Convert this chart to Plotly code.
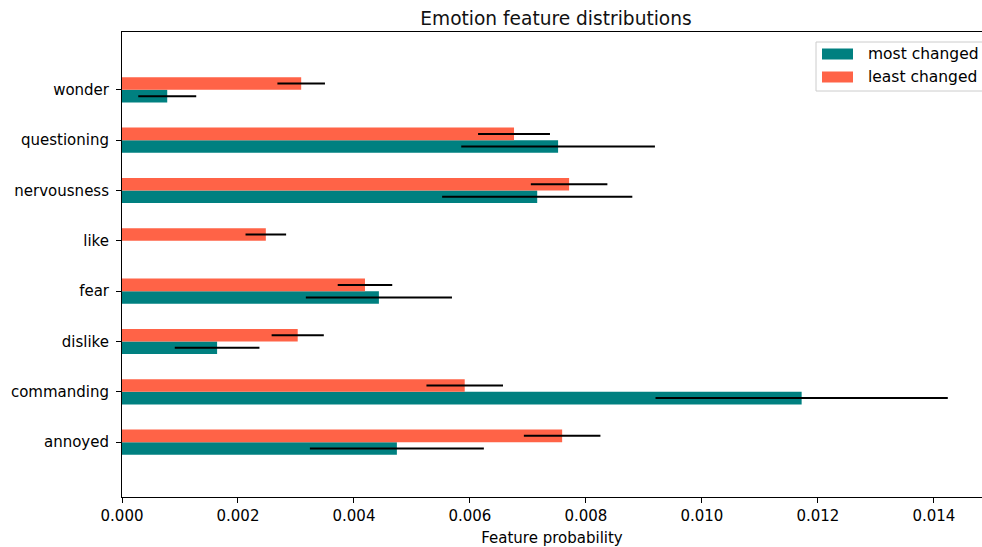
import plotly.graph_objects as go

categories = ["annoyed", "commanding", "dislike", "fear", "like", "nervousness", "questioning", "wonder"]
most_changed = [0.00474, 0.01172, 0.00164, 0.00443, 0.0, 0.00716, 0.00752, 0.00078]
most_err = [0.00150, 0.00252, 0.00073, 0.00126, 0.0, 0.00164, 0.00167, 0.00050]
least_changed = [0.00759, 0.00591, 0.00303, 0.00419, 0.00248, 0.00771, 0.00676, 0.00309]
least_err = [0.00066, 0.00066, 0.00045, 0.00047, 0.00035, 0.00066, 0.00062, 0.00041]
series_names = ["most changed", "least changed"]
series_colors = ["#008080", "#FF6347"]

font = "DejaVu Sans"
W, H = 982, 547
L, T, B = 122, 32, 50
PW, PH = W - L, H - T - B


def px_x(px):
    return (px - L) / PW


def px_y(py):
    return 1 - (py - T) / PH


fig = go.Figure()
for name, vals, errs, col in [(series_names[0], most_changed, most_err, series_colors[0]),
                              (series_names[1], least_changed, least_err, series_colors[1])]:
    fig.add_trace(go.Bar(
        y=categories, x=vals, orientation="h", name=name, showlegend=False,
        marker=dict(color=col, line=dict(width=0)),
        error_x=dict(type="data", array=errs, visible=True, color="black", thickness=2, width=0),
    ))

# matplotlib-style legend box
shapes = [dict(type="rect", xref="paper", yref="paper", x0=px_x(816), x1=px_x(1000),
               y0=px_y(91), y1=px_y(42), line=dict(color="#cccccc", width=1), fillcolor="white",
               layer="above")]
annotations = []
for i, (name, col) in enumerate(zip(series_names, series_colors)):
    cy = 54 + 23 * i
    shapes.append(dict(type="rect", xref="paper", yref="paper", x0=px_x(822), x1=px_x(853),
                       y0=px_y(cy + 5.5), y1=px_y(cy - 5.5), line=dict(width=0), fillcolor=col,
                       layer="above"))
    annotations.append(dict(text=name, xref="paper", yref="paper", x=px_x(866), y=px_y(cy),
                            xanchor="left", yanchor="middle", showarrow=False,
                            font=dict(size=15.5, family=font, color="black")))

fig.update_layout(
    width=W, height=H,
    margin=dict(l=L, r=0, t=T, b=B, autoexpand=False),
    barmode="group", bargap=0.5, bargroupgap=0,
    plot_bgcolor="white", paper_bgcolor="white",
    font=dict(family=font, size=15, color="black"),
    title=dict(text="Emotion feature distributions", x=556 / W, xanchor="center",
               y=1 - 18 / H, yanchor="middle", font=dict(size=18.6, family=font, color="#111111")),
    shapes=shapes, annotations=annotations,
    showlegend=False,
)
fig.update_xaxes(
    range=[0, 0.01483], dtick=0.002, tick0=0, tickformat=".3f",
    showgrid=False, zeroline=False, showline=True, linecolor="black", linewidth=1, mirror=True,
    ticks="outside", ticklen=5, tickcolor="black",
    title=dict(text="Feature probability", font=dict(size=15, family=font), standoff=9),
    tickfont=dict(size=15, family=font),
)
fig.update_yaxes(
    range=[-1.09, 8.15], showgrid=False, zeroline=False, showline=True, linecolor="black", linewidth=1,
    ticks="outside", ticklen=5, tickcolor="black", tickfont=dict(size=15, family=font),
    ticklabelstandoff=4,
)
fig.write_html("out.html", config={"displayModeBar": False},
               post_script="document.body.style.margin='0';document.body.style.overflow='hidden';")
